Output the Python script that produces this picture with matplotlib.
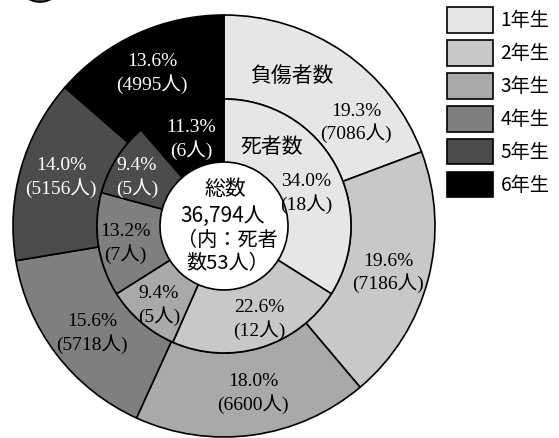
import matplotlib
matplotlib.use("Agg")
from matplotlib import pyplot as plt
from matplotlib.patches import Circle

W, H = 559, 438
DPI = 100

grades = ["1年生", "2年生", "3年生", "4年生", "5年生", "6年生"]
injured_counts = [7086, 7186, 6600, 5718, 5156, 4995]
injured_pcts = [19.3, 19.6, 18.0, 15.6, 14.0, 13.6]
death_counts = [18, 12, 5, 7, 5, 6]
death_pcts = [34.0, 22.6, 9.4, 13.2, 9.4, 11.3]
total_text = ["総数", "36,794人", "（内：死者", "数53人）"]

GRAYS = ["#e6e6e6", "#c8c8c8", "#a9a9a9", "#7f7f7f", "#4c4c4c", "#000000"]
TEXT_COLORS = ["black", "black", "black", "black", "white", "white"]

SERIF = ["Liberation Serif", "Noto Sans CJK JP"]
SANS = ["Noto Sans CJK JP", "DejaVu Sans"]

# pixel layout (y measured from the top)
CX, CY = 224, 226
R_OUT, R_MID, R_IN = 211, 127, 64
OUTER_POS = [(356, 111), (388, 261), (253, 382), (92, 322), (61, 166), (152, 62)]
INNER_POS = [(306, 182), (259, 308), (159, 294), (125, 232), (137, 166), (191, 128)]
LINE_GAP = 22


def py(y):
    return H - y


fig = plt.figure(figsize=(W / DPI, H / DPI), dpi=DPI)
ax = fig.add_axes([0, 0, 1, 1])

wedge_style = dict(edgecolor="black", linewidth=1.2)
outer, _ = ax.pie(injured_counts, radius=R_OUT, center=(CX, py(CY)), startangle=90,
                  counterclock=False, colors=GRAYS, frame=True,
                  wedgeprops=dict(width=R_OUT - R_MID, **wedge_style))
ax.pie(death_counts, radius=R_MID, center=(CX, py(CY)), startangle=90,
       counterclock=False, colors=GRAYS, frame=True,
       wedgeprops=dict(width=R_MID - R_IN, **wedge_style))

# percentage / head-count labels
for pcts, counts, pos in ((injured_pcts, injured_counts, OUTER_POS),
                          (death_pcts, death_counts, INNER_POS)):
    for pct, n, (x, y), c in zip(pcts, counts, pos, TEXT_COLORS):
        ax.text(x, py(y), f"{pct:.1f}%", ha="center", va="center",
                fontsize=14, color=c, family=SERIF)
        ax.text(x, py(y + LINE_GAP), f"({n}人)", ha="center", va="center",
                fontsize=14, color=c, family=SERIF)

ax.text(293, py(76), "負傷者数", ha="center", va="center", fontsize=15, family=SANS)
ax.text(272, py(147), "死者数", ha="center", va="center", fontsize=15, family=SANS)

# total in the middle
ax.text(225, py(189), total_text[0], ha="center", va="center", fontsize=15, family=SANS)
ax.text(223, py(216), total_text[1], ha="center", va="center", fontsize=15, family=SANS)
ax.text(177, py(241), total_text[2], ha="left", va="center", fontsize=14.5, family=SANS)
ax.text(186, py(264), total_text[3], ha="left", va="center", fontsize=14.5, family=SANS)

# bottom of the circled figure number, cut by the top edge
ax.add_patch(Circle((40, py(-21)), 23, facecolor="#444444", edgecolor="black", linewidth=1.2))

ax.legend(outer, grades, loc="upper left", bbox_to_anchor=(447 / W, 1 - 7.5 / H),
          frameon=False, borderpad=0, borderaxespad=0,
          handlelength=2.4, handleheight=1.65, labelspacing=0.4, handletextpad=0.4,
          prop=dict(family=SANS, size=13.8))

ax.set_xlim(0, W)
ax.set_ylim(0, H)
ax.set_aspect("equal")
ax.axis("off")

fig.savefig("out.png", dpi=DPI)
